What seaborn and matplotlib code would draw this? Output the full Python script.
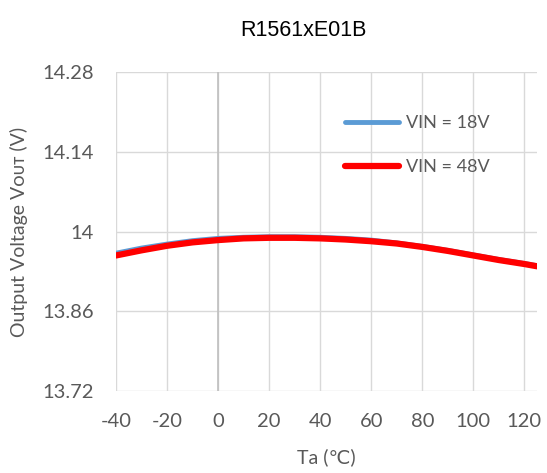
import matplotlib
matplotlib.use("Agg")
import matplotlib.pyplot as plt
import seaborn as sns
import pandas as pd

temps = [-40, -30, -20, -10, 0, 10, 20, 30, 40, 50, 60, 70, 80, 90, 100, 110, 120, 125]
vout_48v = [13.958, 13.967, 13.975, 13.981, 13.985, 13.988, 13.989, 13.989, 13.988,
            13.986, 13.983, 13.979, 13.973, 13.966, 13.958, 13.950, 13.943, 13.939]
vout_18v = [13.962, 13.971, 13.978, 13.984, 13.988, 13.990, 13.991, 13.991, 13.990,
            13.988, 13.985, 13.980, 13.974, 13.967, 13.959, 13.951, 13.944, 13.940]
series_names = ["VIN = 18V", "VIN = 48V"]
x_ticks = [-40, -20, 0, 20, 40, 60, 80, 100, 120]
y_ticks = [13.72, 13.86, 14.0, 14.14, 14.28]
y_labels = ["13.72", "13.86", "14", "14.14", "14.28"]

df = pd.concat([
    pd.DataFrame({"Ta": temps, "Vout": vout_18v, "series": series_names[0]}),
    pd.DataFrame({"Ta": temps, "Vout": vout_48v, "series": series_names[1]}),
])

sns.set_theme(style="white")
plt.rcParams["font.family"] = ["Lato", "DejaVu Sans"]
plt.rcParams["axes.unicode_minus"] = False
txt = "#595959"

fig = plt.figure(figsize=(5.47, 4.73), dpi=100)
ax = fig.add_axes([0.212, 0.173, 0.770, 0.675])

for v in x_ticks:
    ax.axvline(v, color="#d9d9d9", lw=1, zorder=0)
for v in y_ticks:
    ax.axhline(v, color="#d9d9d9", lw=1, zorder=0)
ax.axvline(0, color="#bfbfbf", lw=1.2, zorder=0.5)

sns.lineplot(data=df, x="Ta", y="Vout", hue="series",
             palette={series_names[0]: "#5b9bd5", series_names[1]: "#ff0000"},
             ax=ax, legend=False, sort=True)
lines = ax.get_lines()[-2:]
lines[0].set_linewidth(3.5)
lines[1].set_linewidth(4.5)
for ln in lines:
    ln.set_solid_capstyle("round")
    ln.set_solid_joinstyle("round")

ax.set_xlim(-40, 125)
ax.set_ylim(13.72, 14.28)
ax.set_xticks(x_ticks)
ax.set_yticks(y_ticks)
ax.set_yticklabels(y_labels)
ax.tick_params(axis="both", length=0, labelsize=14.5, colors=txt, pad=16)
for s in ax.spines.values():
    s.set_visible(False)

ax.set_xlabel("Ta (℃)", fontsize=14, color=txt)
ax.set_ylabel("Output Voltage Vᴏᴜᴛ (V)", fontsize=14, color=txt)
ax.xaxis.set_label_coords(0.5, -0.18)
ax.yaxis.set_label_coords(-0.21, 0.5)
fig.text(0.555, 0.935, "R1561xE01B", ha="center", va="center",
         fontsize=15.5, color="#000000", family=["Liberation Sans", "DejaVu Sans"])

leg = ax.legend(lines, series_names, loc="upper left", frameon=False,
                bbox_to_anchor=(0.544, 0.865), borderpad=0, borderaxespad=0,
                handlelength=3.0, labelspacing=1.55, handletextpad=0.35, fontsize=13)
for t in leg.get_texts():
    t.set_color(txt)

fig.savefig("out.png", dpi=100)
